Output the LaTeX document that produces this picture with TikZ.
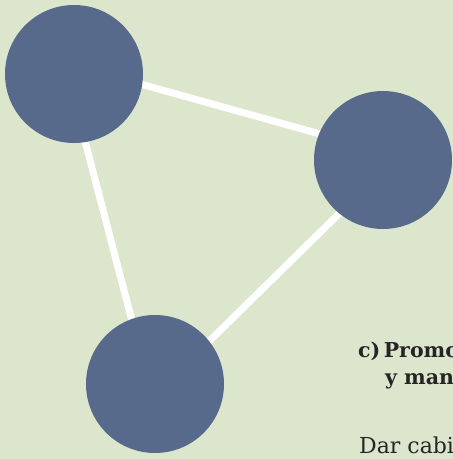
\documentclass[tikz,border=0pt]{standalone}
\usepackage{fontspec}
\setmainfont{DejaVu Serif}
\definecolor{bg}{HTML}{DCE6CC}
\definecolor{dot}{HTML}{586A8C}
\definecolor{ink}{HTML}{252525}
\begin{document}
\begin{tikzpicture}[x=1pt,y=-1pt,
  ball/.style={circle,fill=dot,minimum size=138pt,inner sep=0pt},
  link/.style={draw=white,line width=7pt},
  txt/.style={anchor=base west,inner sep=0pt,text=ink,font=\fontsize{22}{24}\selectfont},
  head/.style={txt,font=\fontsize{20.5}{24}\selectfont\bfseries}]
\fill[bg] (0,0) rectangle (453,459);
\useasboundingbox (0,0) rectangle (453,459);
\clip (0,0) rectangle (453,459);
\coordinate (ca) at (74,74);
\coordinate (cb) at (383,160);
\coordinate (cc) at (155,384);
\draw[link] ([shift={(-6.5,0)}]ca) -- ([shift={(-6.5,0)}]cc);
\draw[link] ([shift={(0,-8.5)}]ca) -- ([shift={(0,-8.5)}]cb);
\draw[link] ([shift={(0,10.5)}]cb) -- ([shift={(0,10.5)}]cc);
\node[ball] (a) at (ca) {};
\node[ball] (b) at (cb) {};
\node[ball] (c) at (cc) {};
\node[head] (t1) at (358,357) {c)\,Promoc};
\node[head] (t2) at (385,384) {y man};
\node[txt] (t3) at (359,453) {Dar cabie};
\end{tikzpicture}
\end{document}
